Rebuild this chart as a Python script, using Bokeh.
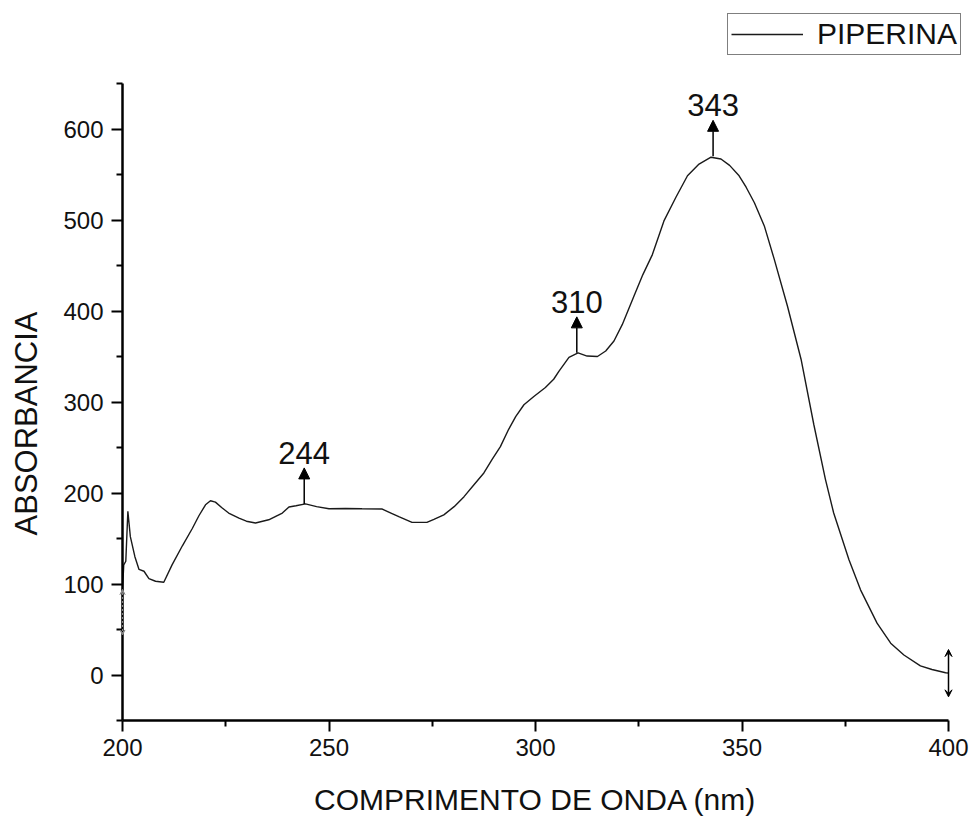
import math
from bokeh.plotting import figure
from bokeh.models import (Range1d, Arrow, NormalHead, VeeHead, Label, Legend, LegendItem,
                          FixedTicker, ColumnDataSource)
from bokeh.embed import file_html
from bokeh.resources import INLINE

# ---- data ----
wavelength = [200.0, 200.3, 200.8, 201.3, 201.9, 203.0, 204.0, 205.2, 206.4, 208.0, 210.0,
              212.0, 214.5, 216.9, 218.5, 220.1, 221.3, 222.5, 224.0, 225.7, 228.2, 230.0,
              232.2, 235.4, 238.7, 240.3, 242.0, 244.3, 247.0, 250.0, 254.0, 258.0, 262.9,
              265.0, 266.9, 270.1, 273.7, 275.4, 277.8, 280.3, 282.7, 285.1, 287.5, 289.5,
              291.5, 293.5, 295.2, 297.2, 299.6, 302.4, 304.4, 305.7, 308.1, 310.3, 312.5,
              315.0, 317.0, 319.0, 321.0, 323.8, 326.0, 328.3, 331.1, 334.0, 336.8, 339.6,
              342.5, 344.9, 347.0, 349.3, 351.0, 353.0, 355.4, 357.8, 361.0, 364.3, 367.4,
              370.2, 372.2, 375.9, 378.7, 382.7, 386.0, 389.2, 393.2, 396.0, 399.3, 400.0]
absorbance = [93, 121, 125, 180, 152, 130, 116, 114, 106, 103, 102,
              121, 142, 161, 175, 187, 191.5, 190, 184, 178, 172.5, 169,
              167, 170.6, 178, 184.6, 186, 188, 185, 182.7, 183, 182.7, 182.4,
              178, 174, 167.7, 167.7, 171, 176, 185, 196, 209, 222, 237,
              251, 270, 284, 297, 306, 316, 325, 334, 349, 354, 350.5,
              350, 356, 367, 385, 416, 440, 462, 499, 525, 548.6, 561.5,
              569, 567, 560, 548.6, 536, 519, 493.5, 457, 405.5, 347, 275,
              215, 178, 126.6, 93.6, 57, 35, 22, 10, 6, 2.5, 2]

peak_wavelengths = [244, 310, 343]
peak_values = [188, 354, 570]
peak_labels = ["244", "310", "343"]

# end-point error bars (value, half-width)
end_wavelengths = [200, 400]
end_centers = [69, 2]
end_halfwidths = [25, 26]

x_ticks = [200, 250, 300, 350, 400]
x_minor = [225, 275, 325, 375]
y_ticks = [0, 100, 200, 300, 400, 500, 600]
y_minor = [-50, 50, 150, 250, 350, 450, 550, 650]
x_axis_span = (200, 400)
y_axis_span = (-50, 650)
x_title = "COMPRIMENTO DE ONDA (nm)"
y_title = "ABSORBANCIA"
series_name = "PIPERINA"

FONT = "Liberation Sans"
TXT = "#111111"
W, H = 973, 818

# layout: the axes sit inside a full-canvas frame (pixel positions of the axes)
ax_left, ax_right, ax_top, ax_bottom = 122, 948, 83, 720
px_per_x = (ax_right - ax_left) / (x_axis_span[1] - x_axis_span[0])
px_per_y = (ax_bottom - ax_top) / (y_axis_span[1] - y_axis_span[0])
x_view = (x_axis_span[0] - ax_left / px_per_x, x_axis_span[1] + (W - ax_right) / px_per_x)
y_view = (y_axis_span[0] - (H - ax_bottom) / px_per_y, y_axis_span[1] + ax_top / px_per_y)

p = figure(width=W, height=H, output_backend="svg", toolbar_location=None,
           x_range=Range1d(*x_view), y_range=Range1d(*y_view),
           min_border_left=0, min_border_right=0, min_border_top=0, min_border_bottom=0)
p.outline_line_color = None
p.xgrid.visible = False
p.ygrid.visible = False
p.background_fill_color = "white"
p.border_fill_color = "white"

src = ColumnDataSource(dict(x=wavelength, y=absorbance))
r = p.line("x", "y", source=src, line_color="#1a1a1a", line_width=1.4)

for ax in (p.xaxis[0], p.yaxis[0]):
    ax.axis_line_width = 2.5
    ax.axis_line_color = "black"
    ax.major_tick_line_width = 2
    ax.minor_tick_line_width = 2
    ax.major_tick_out = 11
    ax.major_tick_in = 0
    ax.minor_tick_out = 6
    ax.minor_tick_in = 0
    ax.major_label_text_font = FONT
    ax.major_label_text_font_size = "24px"
    ax.major_label_text_color = TXT

p.xaxis[0].ticker = FixedTicker(ticks=x_ticks, minor_ticks=x_minor)
p.yaxis[0].ticker = FixedTicker(ticks=y_ticks, minor_ticks=y_minor)
p.xaxis[0].bounds = x_axis_span
p.yaxis[0].bounds = y_axis_span
p.xaxis[0].fixed_location = y_axis_span[0]
p.yaxis[0].fixed_location = x_axis_span[0]
p.xaxis.major_label_standoff = 7
p.yaxis.major_label_standoff = 8

# axis titles
p.add_layout(Label(x=535, y=H - 799, x_units="screen", y_units="screen", text=x_title,
                   text_font=FONT, text_font_size="30px", text_color=TXT,
                   text_align="center", text_baseline="middle"))
p.add_layout(Label(x=26, y=H - 423, x_units="screen", y_units="screen", text=y_title,
                   angle=math.pi / 2, text_font=FONT, text_font_size="31px", text_color=TXT,
                   text_align="center", text_baseline="middle"))

# peak arrows and labels
ypp = 1 / px_per_y
arrow_px = 36
for xw, yv, lab in zip(peak_wavelengths, peak_values, peak_labels):
    p.add_layout(Arrow(end=NormalHead(size=11, fill_color="black", line_color="black"),
                       x_start=xw, y_start=yv, x_end=xw, y_end=yv + arrow_px * ypp,
                       line_color="black", line_width=1.5))
    p.add_layout(Label(x=xw, y=yv + arrow_px * ypp, y_offset=4, text=lab,
                       text_font=FONT, text_font_size="31px", text_color=TXT,
                       text_align="center", text_baseline="bottom"))

# end error bars
p.add_layout(Arrow(start=VeeHead(size=7, line_color="black", fill_color="black"),
                   end=VeeHead(size=7, line_color="black", fill_color="black"),
                   x_start=end_wavelengths[1], y_start=end_centers[1] - end_halfwidths[1],
                   x_end=end_wavelengths[1], y_end=end_centers[1] + end_halfwidths[1],
                   line_color="black", line_width=1.5))
p.add_layout(Arrow(start=VeeHead(size=5, line_color="#888888", fill_color="#888888"),
                   end=VeeHead(size=5, line_color="#888888", fill_color="#888888"),
                   x_start=end_wavelengths[0], y_start=end_centers[0] - end_halfwidths[0],
                   x_end=end_wavelengths[0], y_end=end_centers[0] + end_halfwidths[0],
                   line_color="#888888", line_width=1, line_dash="2 2"))

legend = Legend(items=[LegendItem(label=series_name, renderers=[r])],
                location=(727, H - 55), orientation="vertical",
                border_line_color="black", border_line_width=1.2,
                background_fill_color="white", background_fill_alpha=1,
                label_text_font=FONT, label_text_font_size="30px", label_text_color=TXT,
                glyph_width=72, glyph_height=22, label_standoff=14,
                padding=3, margin=0, spacing=0, label_height=22)
p.add_layout(legend)

open("out.html", "w").write(file_html(p, INLINE))
